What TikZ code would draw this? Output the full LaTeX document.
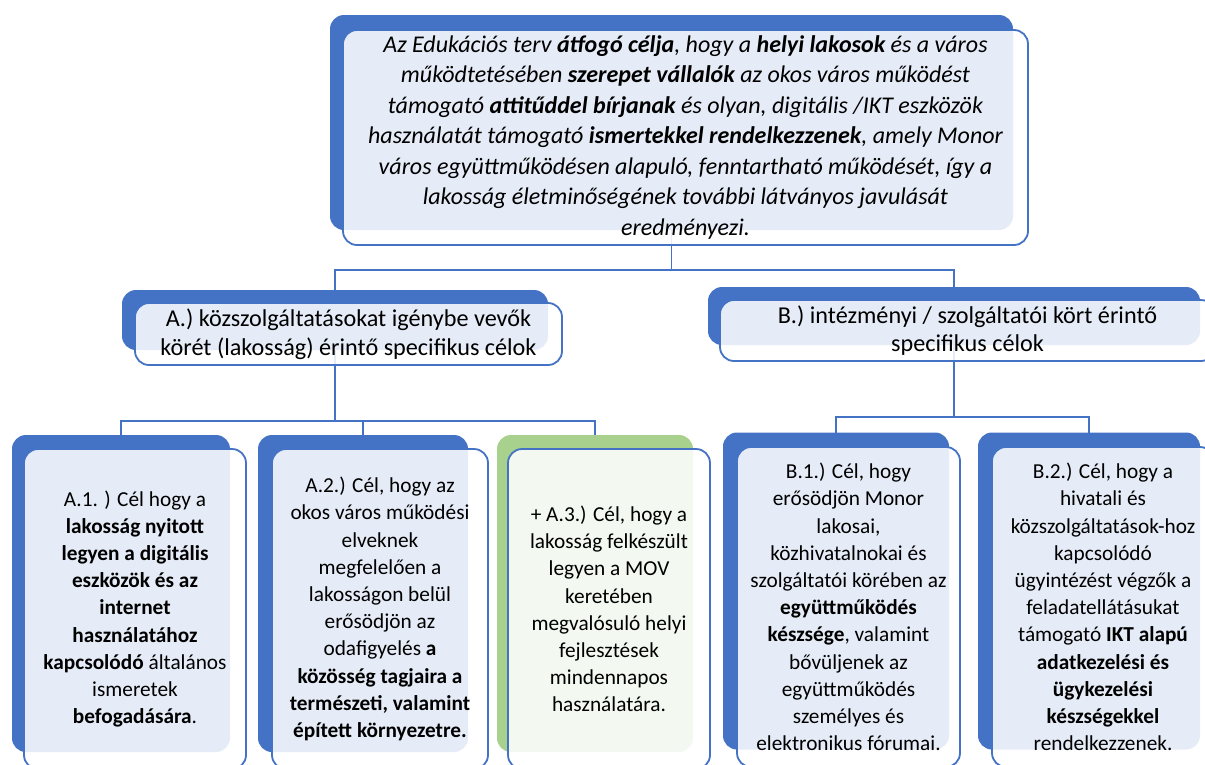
\documentclass[tikz,border=0pt]{standalone}
\usepackage{fontspec}
\setmainfont{Carlito}
\definecolor{accblue}{HTML}{4472C4}
\definecolor{accgreen}{HTML}{A9D18E}
\begin{document}
\begin{tikzpicture}[x=1pt,y=-1pt,
  backbox/.style={fill=accblue, draw=none, rounded corners=14pt, inner sep=0pt, outer sep=0pt},
  greenback/.style={backbox, fill=accgreen},
  frontbox/.style={draw=accblue, line width=1.8pt, fill=white, fill opacity=0.87, text opacity=1,
     draw opacity=1, rounded corners=14pt, inner sep=0pt, outer sep=0pt, align=center, text=black},
  toptext/.style={font=\fontsize{24}{30.5}\selectfont\itshape},
  midtext/.style={font=\fontsize{24.2}{28.5}\selectfont},
  lowtext/.style={font=\fontsize{21.3}{27.2}\selectfont},
  conn/.style={draw=accblue, line width=1.8pt}
]
\useasboundingbox (0,0) rectangle (1205,764);
\clip (0,0) rectangle (1205,764);

% level coordinates for connector bends
\coordinate (h0) at (0,270);
\coordinate (hA) at (0,421);
\coordinate (hB) at (0,417);

% back shapes
\node[backbox, minimum width=683pt, minimum height=215pt] (topback) at (671.5,122.5) {};
\node[backbox, minimum width=426pt, minimum height=60pt] (Aback) at (335,320) {};
\node[backbox, minimum width=492pt, minimum height=58pt] (Bback) at (954,316) {};
\node[backbox, minimum width=218pt, minimum height=317pt] (A1back) at (121,593.5) {};
\node[backbox, minimum width=210pt, minimum height=317pt] (A2back) at (363,593.5) {};
\node[greenback, minimum width=196pt, minimum height=317pt] (A3back) at (595,593.5) {};
\node[backbox, minimum width=226pt, minimum height=317pt] (B1back) at (836,591) {};
\node[backbox, minimum width=222pt, minimum height=317pt] (B2back) at (1089,591) {};

% connectors
\draw[conn] (topback.south) -- (topback.south |- h0) -| (Aback.north);
\draw[conn] (topback.south |- h0) -| (Bback.north);
\draw[conn] (Aback.south) -- (Aback.south |- hA) -| (A1back.north);
\draw[conn] (Aback.south |- hA) -| (A2back.north);
\draw[conn] (Aback.south |- hA) -| (A3back.north);
\draw[conn] (Bback.south) -- (Bback.south |- hB) -| (B1back.north);
\draw[conn] (Bback.south |- hB) -| (B2back.north);

% front shapes with text
\node[frontbox, toptext, minimum width=685pt, minimum height=215pt] (top) at (685.5,137.5)
 {Az Edukációs terv \textbf{átfogó célja}, hogy a \textbf{helyi lakosok} és a város\\
  működtetésében \textbf{szerepet vállalók} az okos város működést\\
  támogató \textbf{attitűddel bírjanak} és olyan, digitális /IKT eszközök\\
  használatát támogató \textbf{ismertekkel rendelkezzenek}, amely Monor\\
  város együttműködésen alapuló, fenntartható működését, így a\\
  lakosság életminőségének további látványos javulását\\
  eredményezi.};

\node[frontbox, midtext, minimum width=427pt, minimum height=62pt] (A) at (348.5,334)
 {A.) közszolgáltatásokat igénybe vevők\\körét (lakosság) érintő specifikus célok};

\node[frontbox, midtext, minimum width=495pt, minimum height=61pt] (B) at (967.5,330.5)
 {B.) intézményi / szolgáltatói kört érintő\\specifikus célok};

\node[frontbox, lowtext, minimum width=222pt, minimum height=320pt] (A1) at (135,609)
 {A.1. ) Cél hogy a\\\textbf{lakosság nyitott}\\\textbf{legyen a digitális}\\\textbf{eszközök és az}\\\textbf{internet}\\\textbf{használatához}\\\textbf{kapcsolódó} általános\\ismeretek\\\textbf{befogadására}.};

\node[frontbox, lowtext, minimum width=216pt, minimum height=320pt] (A2) at (380,609)
 {A.2.) Cél, hogy az\\okos város működési\\elveknek\\megfelelően a\\lakosságon belül\\erősödjön az\\odafigyelés \textbf{a}\\\textbf{közösség tagjaira a}\\\textbf{természeti, valamint}\\\textbf{épített környezetre.}};

\node[frontbox, lowtext, minimum width=202pt, minimum height=320pt] (A3) at (609,609)
 {+ A.3.) Cél, hogy a\\lakosság felkészült\\legyen a MOV\\keretében\\megvalósuló helyi\\fejlesztések\\mindennapos\\használatára.};

\node[frontbox, lowtext, minimum width=223pt, minimum height=320pt] (B1) at (848.5,607)
 {B.1.) Cél, hogy\\erősödjön Monor\\lakosai,\\közhivatalnokai és\\szolgáltatói körében az\\\textbf{együttműködés}\\\textbf{készsége}, valamint\\bővüljenek az\\együttműködés\\személyes és\\elektronikus fórumai.};

\node[frontbox, lowtext, minimum width=222pt, minimum height=320pt] (B2) at (1103,607)
 {B.2.) Cél, hogy a\\hivatali és\\közszolgáltatások-hoz\\kapcsolódó\\ügyintézést végzők a\\feladatellátásukat\\támogató \textbf{IKT alapú}\\\textbf{adatkezelési és}\\\textbf{ügykezelési}\\\textbf{készségekkel}\\rendelkezzenek.};
\end{tikzpicture}
\end{document}
